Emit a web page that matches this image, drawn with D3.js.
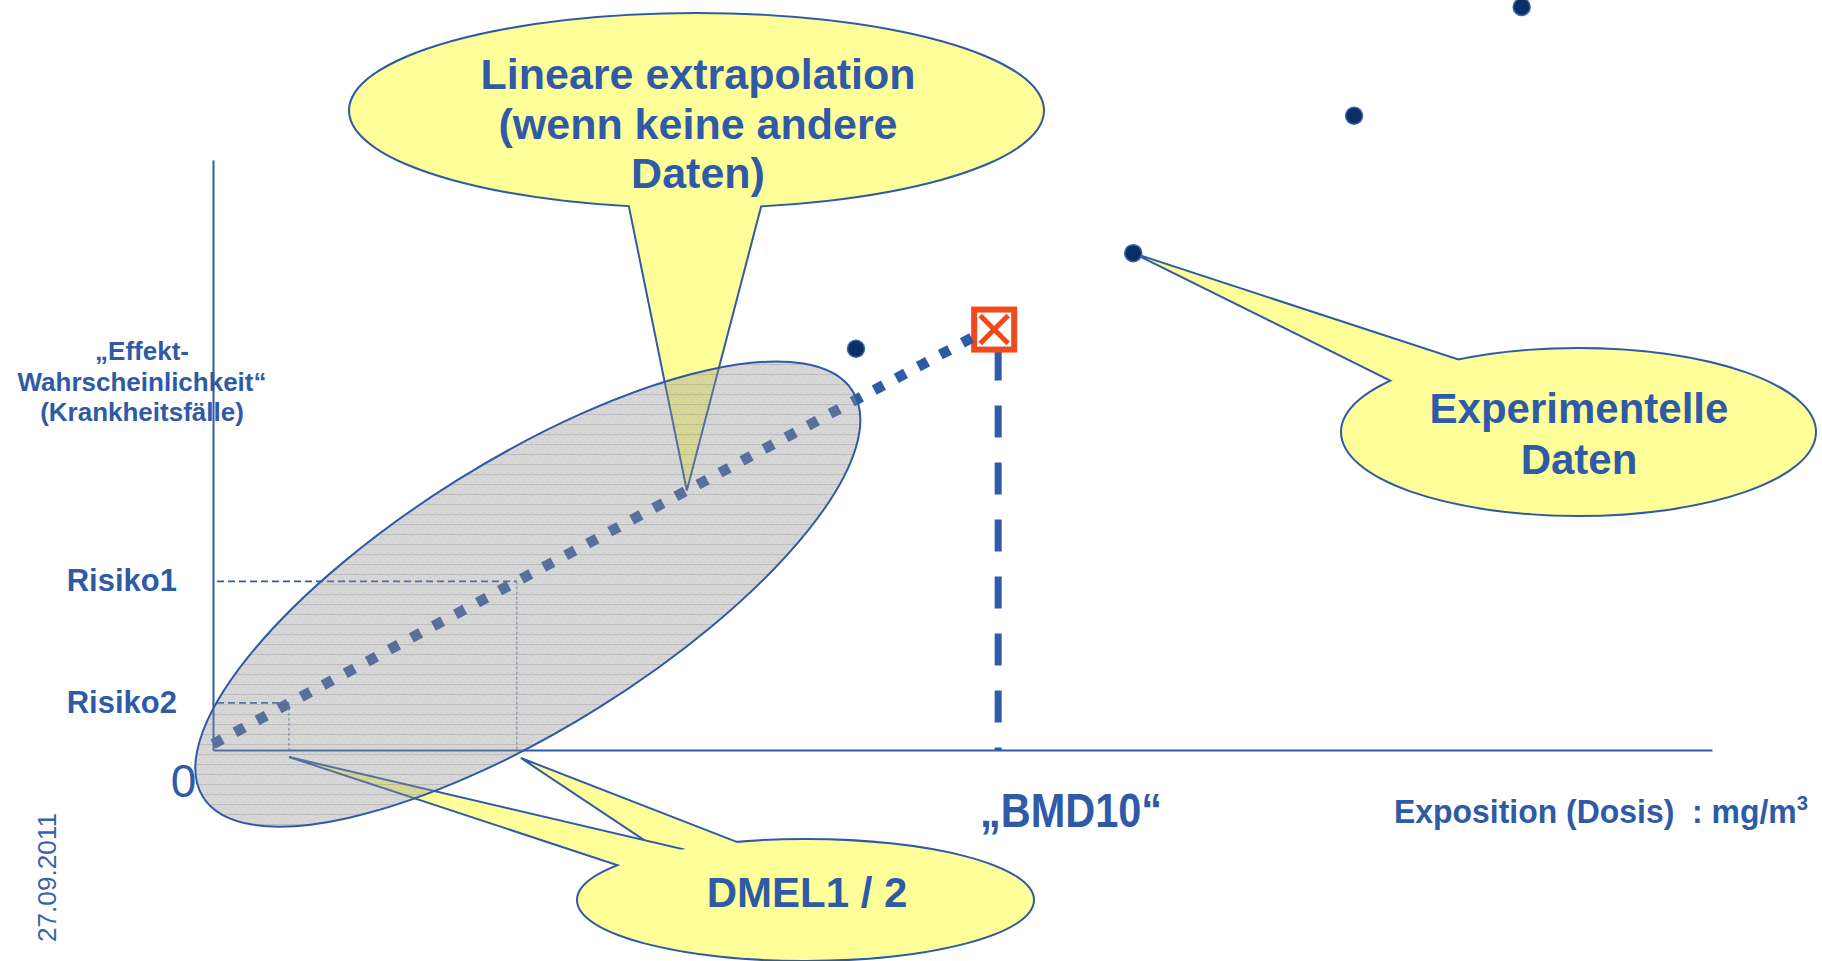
<!DOCTYPE html>
<html>
<head>
<meta charset="utf-8">
<script src="https://cdn.jsdelivr.net/npm/d3@7"></script>
<style>
  html, body { margin: 0; padding: 0; background: #ffffff; }
  svg { display: block; }
  text { font-family: "Liberation Sans", Arial, sans-serif; }
</style>
</head>
<body>
<svg id="chart" width="1822" height="961"></svg>
<script>
// ---- Data (dose in relative units, effect in % of cases) ----
const doseAxisMax = 19.14;
const effectAxisMax = 14;

const experimentDose   = [8.21, 11.75, 14.57, 16.71];
const experimentEffect = [9.52, 11.79, 15.05, 17.63];

const bmdDose = 10;
const bmdEffect = 10;

const extrapolationDose   = [0, 9.78];
const extrapolationEffect = [0.14, 9.87];

const riskLabels  = ["Risiko1", "Risiko2"];
const riskLevels  = [4.0, 1.12];
const dmelDoses   = [3.88, 0.97];

const yAxisTitle  = ["\u201EEffekt-", "Wahrscheinlichkeit\u201C", "(Krankheitsfälle)"];
const xAxisTitle  = "Exposition (Dosis)  : mg/m";
const xAxisUnitExp = "3";
const bmdLabel    = "\u201EBMD10\u201C";
const zeroLabel   = "0";
const dateLabel   = "27.09.2011";

const calloutExtrapolationText = ["Lineare extrapolation", "(wenn keine andere", "Daten)"];
const calloutExperimentText    = ["Experimentelle", "Daten"];
const calloutDmelText          = ["DMEL1 / 2"];

// ---- Styles ----
const BLUE = "#2f5aa6";
const YELLOW = "#ffff99";
const ORANGE = "#ef4a1d";

const svg = d3.select("#chart");

const x = d3.scaleLinear().domain([0, doseAxisMax]).range([213, 1712]);
const y = d3.scaleLinear().domain([0, effectAxisMax]).range([750, 160]);

// horizontal hatch used for the uncertainty region (counter-rotated so it stays level)
const defs = svg.append("defs");
const pat = defs.append("pattern")
  .attr("id", "hatch")
  .attr("patternUnits", "userSpaceOnUse")
  .attr("patternTransform", "rotate(32)")
  .attr("width", 6).attr("height", 10);
pat.append("rect").attr("width", 6).attr("height", 10).attr("fill", "rgba(150,150,150,0.38)");
pat.append("rect").attr("x", 0).attr("y", 0).attr("width", 6).attr("height", 1).attr("fill", "rgba(90,90,90,0.22)");
pat.append("rect").attr("x", 1).attr("y", 5).attr("width", 1).attr("height", 1).attr("fill", "rgba(110,110,110,0.18)");
pat.append("rect").attr("x", 4).attr("y", 3).attr("width", 1).attr("height", 1).attr("fill", "rgba(110,110,110,0.18)");
pat.append("rect").attr("x", 3).attr("y", 8).attr("width", 1).attr("height", 1).attr("fill", "rgba(110,110,110,0.18)");

// ---- Axes ----
const xAxis = svg.append("g")
  .attr("transform", `translate(0,${y(0)})`)
  .call(d3.axisBottom(x).tickValues([]).tickSizeOuter(0));
const yAxis = svg.append("g")
  .attr("transform", `translate(${x(0)},0)`)
  .call(d3.axisLeft(y).tickValues([]).tickSizeOuter(0));
[xAxis, yAxis].forEach(g => g.select(".domain").attr("stroke", BLUE).attr("stroke-width", 2));

// ---- Risk guide lines ----
riskLevels.forEach((r, i) => {
  svg.append("line")
    .attr("x1", x(0) + 4).attr("x2", x(dmelDoses[i]))
    .attr("y1", y(r)).attr("y2", y(r))
    .attr("stroke", BLUE).attr("stroke-width", 1.8)
    .attr("stroke-dasharray", "7 4");
  svg.append("line")
    .attr("x1", x(dmelDoses[i])).attr("x2", x(dmelDoses[i]))
    .attr("y1", y(r)).attr("y2", y(0))
    .attr("stroke", "#5b7bb5").attr("stroke-width", 1)
    .attr("stroke-dasharray", "3 2");
});

// ---- Callout balloons ----
function callout(cx, cy, rx, ry, tails) {
  const g = svg.append("g");
  g.append("ellipse")
    .attr("cx", cx).attr("cy", cy).attr("rx", rx).attr("ry", ry)
    .attr("fill", "none").attr("stroke", BLUE).attr("stroke-width", 4);
  tails.forEach(t => {
    const ext = b => {
      const dx = b[0] - t.tip[0], dy = b[1] - t.tip[1];
      const l = Math.hypot(dx, dy);
      return [b[0] + dx / l * 30, b[1] + dy / l * 30];
    };
    const pts = [t.tip, ext(t.base[0]), ext(t.base[1])];
    g.append("path")
      .attr("d", "M" + pts.map(p => p.join(",")).join("L") + "Z")
      .attr("fill", YELLOW).attr("stroke", BLUE).attr("stroke-width", 2)
      .attr("stroke-linejoin", "miter");
  });
  g.append("ellipse")
    .attr("cx", cx).attr("cy", cy).attr("rx", rx).attr("ry", ry)
    .attr("fill", YELLOW);
  return g;
}

function lineAt(d) {
  const t = (d - extrapolationDose[0]) / (extrapolationDose[1] - extrapolationDose[0]);
  return extrapolationEffect[0] + t * (extrapolationEffect[1] - extrapolationEffect[0]);
}

// balloon pointing to the extrapolated line
callout(696.5, 110.5, 346.5, 96.5, [
  { tip: [x(6.05), y(lineAt(6.05))], base: [[629, 207], [761, 207]] }
]);
// balloon pointing to the experimental data
callout(1578.5, 432, 236.5, 83, [
  { tip: [x(experimentDose[1]), y(experimentEffect[1])], base: [[1393, 382], [1460, 360]] }
]);
// balloon pointing to the two DMEL doses
callout(805.5, 900, 227.5, 60, [
  { tip: [x(dmelDoses[0]) + 4, y(0) + 8], base: [[680, 864], [737, 842]] },
  { tip: [x(dmelDoses[1]), y(0) + 7], base: [[620, 866], [682, 849]] }
]);

// ---- BMD10 marker and drop line ----
svg.append("line")
  .attr("x1", x(bmdDose) + 2).attr("x2", x(bmdDose) + 2)
  .attr("y1", y(bmdEffect) + 20).attr("y2", y(0))
  .attr("stroke", BLUE).attr("stroke-width", 7)
  .attr("stroke-dasharray", "32 25");

const mx = x(bmdDose) - 2, my = y(bmdEffect) + 1;
svg.append("rect")
  .attr("x", mx - 20).attr("y", my - 20).attr("width", 40).attr("height", 40)
  .attr("fill", "#ffffff").attr("stroke", ORANGE).attr("stroke-width", 6);
svg.append("path")
  .attr("d", `M${mx - 14},${my - 14}L${mx + 14},${my + 14}M${mx + 14},${my - 14}L${mx - 14},${my + 14}`)
  .attr("stroke", ORANGE).attr("stroke-width", 5);

// ---- Linear extrapolation (square dots) ----
svg.append("path")
  .attr("d", d3.line()(extrapolationDose.map((d, i) => [x(d), y(extrapolationEffect[i])])))
  .attr("fill", "none").attr("stroke", BLUE).attr("stroke-width", 10.5)
  .attr("stroke-dasharray", "10.5 14.5");

// ---- Uncertainty region around low doses ----
svg.append("ellipse")
  .attr("transform", `translate(${x(4.02)},${y(3.70)}) rotate(-32)`)
  .attr("rx", 383).attr("ry", 134)
  .attr("fill", "url(#hatch)")
  .attr("stroke", BLUE).attr("stroke-width", 2);

// ---- Experimental data points ----
svg.selectAll("circle.exp")
  .data(experimentDose.map((d, i) => ({ d, e: experimentEffect[i] })))
  .join("circle")
  .attr("class", "exp")
  .attr("cx", p => x(p.d)).attr("cy", p => y(p.e))
  .attr("r", 8.5)
  .attr("fill", "#0a2f66").attr("stroke", "#3b63a8").attr("stroke-width", 1.5);

// ---- Text ----
function multiline(lines, cx, baseline, step, size) {
  const t = svg.append("text")
    .attr("text-anchor", "middle")
    .attr("font-size", size).attr("font-weight", "bold")
    .attr("fill", BLUE);
  lines.forEach((l, i) => {
    t.append("tspan").attr("x", cx).attr("y", baseline + i * step).text(l);
  });
  return t;
}

multiline(calloutExtrapolationText, 698, 89, 49.5, 43);
multiline(calloutExperimentText, 1579, 423, 51, 42);
multiline(calloutDmelText, 807, 907, 50, 42);
multiline(yAxisTitle, 142, 360, 30.5, 26);

riskLabels.forEach((lab, i) => {
  svg.append("text")
    .attr("x", 177).attr("y", y(riskLevels[i]) + 10)
    .attr("text-anchor", "end")
    .attr("font-size", 31).attr("font-weight", "bold")
    .attr("fill", BLUE).text(lab);
});

svg.append("text")
  .attr("x", 183.5).attr("y", 797)
  .attr("text-anchor", "middle")
  .attr("font-size", 46).attr("fill", BLUE)
  .text(zeroLabel);

svg.append("text")
  .attr("x", 980).attr("y", 827)
  .attr("font-size", 48).attr("font-weight", "bold")
  .attr("textLength", 182).attr("lengthAdjust", "spacingAndGlyphs")
  .attr("fill", BLUE).text(bmdLabel);

const xt = svg.append("text")
  .attr("x", 1394).attr("y", 823)
  .attr("font-size", 33).attr("font-weight", "bold")
  .attr("textLength", 414).attr("lengthAdjust", "spacingAndGlyphs")
  .style("white-space", "pre")
  .attr("fill", BLUE);
xt.append("tspan").text(xAxisTitle);
xt.append("tspan").attr("font-size", 21).attr("dy", -13).text(xAxisUnitExp);

svg.append("text")
  .attr("transform", "translate(56,877.5) rotate(-90)")
  .attr("text-anchor", "middle")
  .attr("font-size", 26)
  .attr("textLength", 129).attr("lengthAdjust", "spacingAndGlyphs")
  .attr("fill", "#3a62ab").text(dateLabel);
</script>
</body>
</html>
